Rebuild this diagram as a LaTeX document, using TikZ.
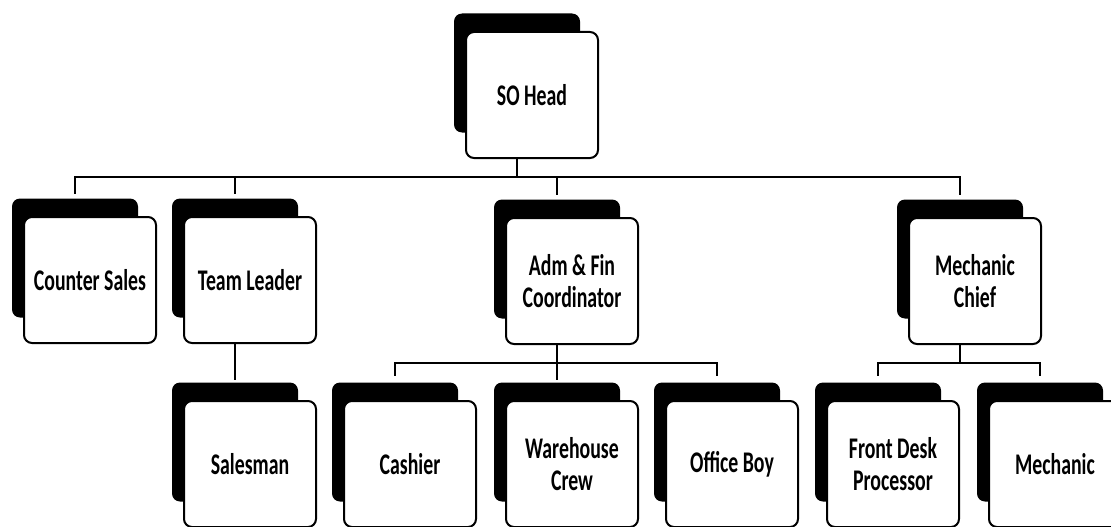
\documentclass[tikz,border=0pt]{standalone}
\usepackage{fontspec}
\newfontfamily\orgfont{Carlito}[FakeStretch=0.66]

\tikzset{
    frontbox/.style={draw, line width=2pt, fill=white, rounded corners=8pt,
        minimum width=132pt, minimum height=126pt, align=center,
        font=\orgfont\bfseries\fontsize{30}{32}\selectfont},
    shadowbox/.style={fill=black, rounded corners=8pt, minimum width=126pt, minimum height=119pt},
    link/.style={line width=2pt}
}

% shadow box first, front box on top of it
\newcommand{\staffbox}[4]{
    \node[shadowbox] (#1S) at (#2-15,#3-22) {};
    \node[frontbox] (#1) at (#2,#3) {#4};
}

\begin{document}
\begin{tikzpicture}[x=1pt,y=-1pt]
    \useasboundingbox (0,0) rectangle (1111,527);

    \staffbox{so}{532}{95}{SO Head}

    \staffbox{cs}{90}{280}{Counter Sales}
    \staffbox{tl}{250}{280}{Team Leader}
    \staffbox{af}{572}{281}{Adm \& Fin\\Coordinator}
    \staffbox{mc}{975}{281}{Mechanic\\Chief}

    \staffbox{sl}{250}{464}{Salesman}
    \staffbox{ca}{410}{464}{Cashier}
    \staffbox{wc}{572}{464}{Warehouse\\Crew}
    \staffbox{ob}{732}{464}{Office Boy}
    \staffbox{fd}{893}{464}{Front Desk\\Processor}
    \staffbox{me}{1055}{464}{Mechanic}

    \draw[link, shorten >=4pt](soS |- so.south)--++(0,18)-|(csS.north);
    \draw[link, shorten >=4pt](soS |- so.south)--++(0,18)-|(tlS.north);
    \draw[link, shorten >=4pt](soS |- so.south)--++(0,18)-|(afS.north);
    \draw[link, shorten >=4pt](soS |- so.south)--++(0,18)-|(mcS.north);

    \draw[link, shorten >=2pt](tlS |- tl.south)--(slS.north);

    \draw[link, shorten >=6pt](afS |- af.south)--++(0,18)-|(caS.north);
    \draw[link, shorten >=2pt](afS |- af.south)--(wcS.north);
    \draw[link, shorten >=6pt](afS |- af.south)--++(0,18)-|(obS.north);

    \draw[link, shorten >=6pt](mcS |- mc.south)--++(0,18)-|(fdS.north);
    \draw[link, shorten >=6pt](mcS |- mc.south)--++(0,18)-|(meS.north);
\end{tikzpicture}
\end{document}
